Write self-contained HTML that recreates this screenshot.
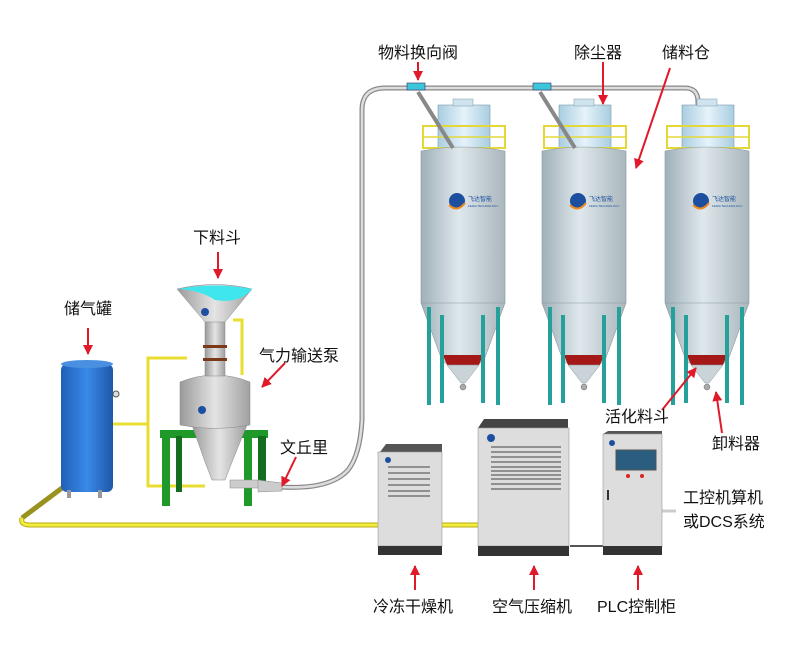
<!DOCTYPE html>
<html><head><meta charset="utf-8"><style>
html,body{margin:0;padding:0;background:#fff}
svg text{font-family:"Liberation Sans","Noto Sans CJK SC",sans-serif;font-size:16px;fill:#111}
</style></head><body>
<svg width="800" height="648" viewBox="0 0 800 648" xmlns="http://www.w3.org/2000/svg">
<defs>
<linearGradient id="sg" x1="0" x2="1"><stop offset="0" stop-color="#9fb0b8"/><stop offset="0.45" stop-color="#dfe8ec"/><stop offset="1" stop-color="#a9b6bc"/></linearGradient>
<linearGradient id="dg" x1="0" x2="1"><stop offset="0" stop-color="#a8cde0"/><stop offset="0.5" stop-color="#e6f3fa"/><stop offset="1" stop-color="#a8cde0"/></linearGradient>
<linearGradient id="bg" x1="0" x2="1"><stop offset="0" stop-color="#1f5fb8"/><stop offset="0.5" stop-color="#3a8ae8"/><stop offset="1" stop-color="#1d57a8"/></linearGradient>
<linearGradient id="pg" x1="0" x2="1"><stop offset="0" stop-color="#9a9a9a"/><stop offset="0.5" stop-color="#e4e4e4"/><stop offset="1" stop-color="#a0a0a0"/></linearGradient>
<marker id="ah" viewBox="0 0 10 10" refX="9" refY="5" markerWidth="5" markerHeight="5" orient="auto"><path d="M0,0L10,5L0,10z" fill="#e01a2a"/></marker>
<g id="silo">
 <rect x="17" y="20" width="52" height="45" fill="url(#dg)" stroke="#7a9aaa" stroke-width="0.6"/>
 <rect x="32" y="14" width="20" height="7" fill="#cfe3ee" stroke="#7a9aaa" stroke-width="0.5"/>
 <rect x="2" y="41" width="82" height="22" fill="none" stroke="#e4d838" stroke-width="2"/>
 <line x1="2" y1="52" x2="84" y2="52" stroke="#e4d838" stroke-width="1.5"/>
 <path d="M0,66 Q42,58 84,66 V218 L62,278 H22 L0,218 Z" fill="url(#sg)" stroke="#8a989f" stroke-width="0.6"/>
 <line x1="0" y1="218" x2="84" y2="218" stroke="#8a989f" stroke-width="0.6"/>
 <path d="M22,270 H62 L58,280 H26 Z" fill="#a51818"/>
 <path d="M26,280 H58 L44,298 H40 Z" fill="#c9d3d8" stroke="#8a989f" stroke-width="0.5"/>
 <circle cx="42" cy="302" r="3" fill="#aaa" stroke="#666" stroke-width="0.5"/>
 <rect x="6" y="222" width="4" height="98" fill="#25a09a"/><rect x="19" y="230" width="4" height="88" fill="#25a09a"/>
 <rect x="60" y="230" width="4" height="88" fill="#25a09a"/><rect x="75" y="222" width="4" height="98" fill="#25a09a"/>
 <circle cx="36" cy="116" r="8" fill="#1c4fa0"/><path d="M28,120 Q36,128 44,118" stroke="#f08a20" stroke-width="2" fill="none"/>
 <text x="47" y="116" style="font-size:6px;fill:#1c4fa0">飞达智能</text>
 <text x="47" y="122" style="font-size:3px;fill:#1c4fa0">FEIDA TECHNOLOGY</text>
</g>
</defs>

<path d="M280,487 Q330,490 348,470 Q360,455 362,420 V110 Q362,88 385,88 H685 Q698,88 698,102 V140" fill="none" stroke="#888" stroke-width="5"/>
<path d="M280,487 Q330,490 348,470 Q360,455 362,420 V110 Q362,88 385,88 H685 Q698,88 698,102 V140" fill="none" stroke="#ddd" stroke-width="2.5"/>

<use href="#silo" x="421" y="85"/>
<use href="#silo" x="542" y="85"/>
<use href="#silo" x="665" y="85"/>
<line x1="418" y1="92" x2="453" y2="148" stroke="#888" stroke-width="4"/>
<line x1="540" y1="92" x2="575" y2="148" stroke="#888" stroke-width="4"/>
<rect x="407" y="83" width="18" height="7" fill="#3cc6dc" stroke="#336" stroke-width="0.6"/>
<rect x="533" y="83" width="18" height="7" fill="#3cc6dc" stroke="#336" stroke-width="0.6"/>

<path d="M22,518 L82,473" fill="none" stroke="#9a9220" stroke-width="5"/>
<path d="M22,518 Q20,525 30,525 H380 M442,525 H478" fill="none" stroke="#b8ad1a" stroke-width="5"/>
<path d="M22,518 Q20,525 30,525 H380 M442,525 H478" fill="none" stroke="#f2ec3a" stroke-width="3"/>
<line x1="570" y1="546" x2="603" y2="546" stroke="#555" stroke-width="2"/>
<line x1="662" y1="511" x2="676" y2="511" stroke="#ccc" stroke-width="3"/>

<rect x="61" y="364" width="52" height="128" rx="6" fill="url(#bg)"/>
<ellipse cx="87" cy="364" rx="26" ry="4" fill="#4a90e0"/>
<rect x="67" y="490" width="4" height="8" fill="#999"/><rect x="98" y="490" width="4" height="8" fill="#999"/>
<circle cx="116" cy="394" r="3" fill="#ddd" stroke="#555"/>
<path d="M113,424 H148 V358 H187 M148,424 V486 H205" fill="none" stroke="#e9dd30" stroke-width="3"/>
<path d="M233,320 H242 V375" fill="none" stroke="#e9dd30" stroke-width="3"/>

<rect x="160" y="430" width="108" height="8" fill="#1f9a2a"/>
<rect x="162" y="436" width="8" height="70" fill="#1f9a2a"/><rect x="244" y="436" width="8" height="70" fill="#1f9a2a"/>
<rect x="176" y="436" width="6" height="56" fill="#156e1e"/><rect x="258" y="436" width="8" height="52" fill="#156e1e"/>
<path d="M192,425 H247 L232,462 L225,480 H212 L205,462 Z" fill="url(#pg)" stroke="#888" stroke-width="0.5"/>
<path d="M180,382 Q215,368 250,382 V425 Q215,432 180,425 Z" fill="url(#pg)" stroke="#888" stroke-width="0.5"/>
<rect x="205" y="320" width="20" height="56" fill="url(#pg)" stroke="#888" stroke-width="0.5"/>
<rect x="203" y="345" width="24" height="3" fill="#7a3a1a"/><rect x="203" y="358" width="24" height="3" fill="#7a3a1a"/>
<path d="M177,289 Q215,280 252,289 L225,322 H205 Z" fill="url(#pg)" stroke="#888" stroke-width="0.5"/>
<path d="M178,289 Q215,282 252,289 Q240,304 215,300 Q200,290 178,289 Z" fill="#3fe6ee"/>
<circle cx="205" cy="312" r="4" fill="#1c4fa0"/>
<circle cx="202" cy="410" r="4" fill="#1c4fa0"/>
<rect x="230" y="480" width="30" height="8" fill="#ccc" stroke="#888" stroke-width="0.5"/>
<path d="M258,480 L282,483 V491 L258,492 Z" fill="#ccc" stroke="#888" stroke-width="0.5"/>

<path d="M380,452 L386,444 H442 V452 Z" fill="#555"/>
<rect x="378" y="452" width="64" height="94" fill="#ddd" stroke="#999" stroke-width="0.6"/>
<rect x="378" y="546" width="64" height="9" fill="#333"/>
<g stroke="#777" stroke-width="1.5"><line x1="388" y1="467" x2="430" y2="467"/><line x1="388" y1="473" x2="430" y2="473"/><line x1="388" y1="479" x2="430" y2="479"/><line x1="388" y1="485" x2="430" y2="485"/><line x1="388" y1="491" x2="430" y2="491"/><line x1="388" y1="496" x2="430" y2="496"/></g>
<circle cx="388" cy="460" r="3" fill="#1c4fa0"/>
<path d="M478,428 L484,419 H568 V428 Z" fill="#444"/>
<rect x="478" y="428" width="91" height="118" fill="#ddd" stroke="#999" stroke-width="0.6"/>
<rect x="478" y="546" width="91" height="10" fill="#333"/>
<g stroke="#777" stroke-width="1.5"><line x1="491" y1="447" x2="561" y2="447"/><line x1="491" y1="452" x2="561" y2="452"/><line x1="491" y1="457" x2="561" y2="457"/><line x1="491" y1="462" x2="561" y2="462"/><line x1="491" y1="467" x2="561" y2="467"/><line x1="491" y1="471" x2="561" y2="471"/><line x1="491" y1="475" x2="561" y2="475"/><line x1="491" y1="479" x2="561" y2="479"/><line x1="491" y1="484" x2="561" y2="484"/><line x1="491" y1="489" x2="561" y2="489"/></g>
<circle cx="491" cy="438" r="4" fill="#1c4fa0"/>
<path d="M603,434 L608,431 H662 V436 Z" fill="#555"/>
<rect x="603" y="434" width="59" height="113" fill="#ddd" stroke="#999" stroke-width="0.6"/>
<rect x="603" y="546" width="59" height="9" fill="#333"/>
<rect x="616" y="450" width="40" height="20" fill="#2b5d80" stroke="#555"/>
<circle cx="628" cy="476" r="2" fill="#d22"/><circle cx="642" cy="476" r="2" fill="#d22"/>
<rect x="607" y="490" width="2" height="10" fill="#333"/>
<circle cx="612" cy="443" r="3" fill="#1c4fa0"/>

<g stroke="#e01a2a" stroke-width="2" marker-end="url(#ah)" fill="none">
<line x1="418" y1="62" x2="418" y2="80"/>
<line x1="603" y1="62" x2="603" y2="104"/>
<line x1="670" y1="68" x2="636" y2="168"/>
<line x1="218" y1="252" x2="218" y2="278"/>
<line x1="88" y1="328" x2="88" y2="354"/>
<line x1="285" y1="363" x2="262" y2="387"/>
<line x1="296" y1="457" x2="282" y2="486"/>
<line x1="662" y1="410" x2="696" y2="368"/>
<line x1="722" y1="433" x2="716" y2="392"/>
<line x1="415" y1="590" x2="415" y2="566"/>
<line x1="534" y1="590" x2="534" y2="566"/>
<line x1="638" y1="590" x2="638" y2="566"/>
</g>

<text x="378" y="58">物料换向阀</text>
<text x="574" y="58">除尘器</text>
<text x="662" y="58">储料仓</text>
<text x="193" y="243">下料斗</text>
<text x="64" y="314">储气罐</text>
<text x="259" y="361">气力输送泵</text>
<text x="280" y="453">文丘里</text>
<text x="605" y="422">活化料斗</text>
<text x="712" y="449">卸料器</text>
<text x="683" y="503">工控机算机</text>
<text x="683" y="527">或DCS系统</text>
<text x="373" y="612">冷冻干燥机</text>
<text x="492" y="612">空气压缩机</text>
<text x="597" y="612">PLC控制柜</text>
</svg>
</body></html>
